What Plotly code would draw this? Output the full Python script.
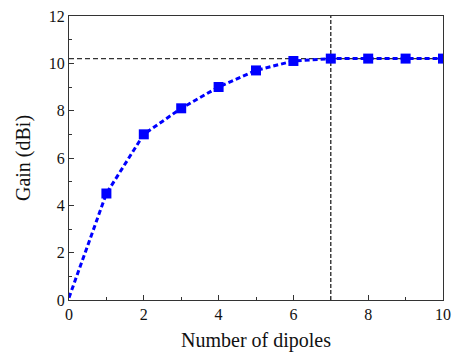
import plotly.graph_objects as go

# Gain versus number of dipoles
dipoles = [0, 1, 2, 3, 4, 5, 6, 7, 8, 9, 10]
gain_dbi = [0.1, 4.5, 7.0, 8.1, 9.0, 9.7, 10.1, 10.2, 10.2, 10.2, 10.2]

# Saturation reference
sat_dipoles = 7
sat_gain = 10.2

x_ticks = [0, 2, 4, 6, 8, 10]
y_ticks = [0, 2, 4, 6, 8, 10, 12]

FONT = "Liberation Serif"

fig = go.Figure()

# reference lines
fig.add_trace(go.Scatter(
    x=[0, 10], y=[sat_gain, sat_gain], mode="lines",
    line=dict(color="#333333", width=1.2, dash="5px,3px"), hoverinfo="skip"))
fig.add_trace(go.Scatter(
    x=[sat_dipoles, sat_dipoles], y=[0, 12], mode="lines",
    line=dict(color="#111111", width=1.2, dash="4px,2px"), hoverinfo="skip"))

# curve
fig.add_trace(go.Scatter(
    x=dipoles, y=gain_dbi, mode="lines",
    line=dict(color="#0000ff", width=3, dash="5px,3px")))
fig.add_trace(go.Scatter(
    x=dipoles[1:], y=gain_dbi[1:], mode="markers",
    marker=dict(symbol="square", size=10, color="#0000ff")))

axis_common = dict(
    showgrid=False, zeroline=False, showline=True, mirror=True,
    linecolor="#333333", linewidth=1.3, automargin=False,
    ticks="inside", ticklen=5, tickwidth=1.2, tickcolor="#333333",
    tickfont=dict(family=FONT, size=16, color="#111111"),
    minor=dict(ticks="inside", ticklen=3, tickwidth=1, tickcolor="#333333", dtick=1),
)

fig.update_xaxes(range=[0, 10], tickvals=x_ticks,
                 title=dict(text="Number of dipoles", font=dict(family=FONT, size=20, color="#111111"), standoff=10),
                 **axis_common)
fig.update_yaxes(range=[0, 12], tickvals=y_ticks,
                 title=dict(text="Gain (dBi)", font=dict(family=FONT, size=20, color="#111111"), standoff=12),
                 **axis_common)

fig.update_layout(
    width=457, height=352,
    margin=dict(l=69, r=14, t=16, b=52),
    paper_bgcolor="white", plot_bgcolor="white",
    showlegend=False,
)

fig.write_html("out.html")
